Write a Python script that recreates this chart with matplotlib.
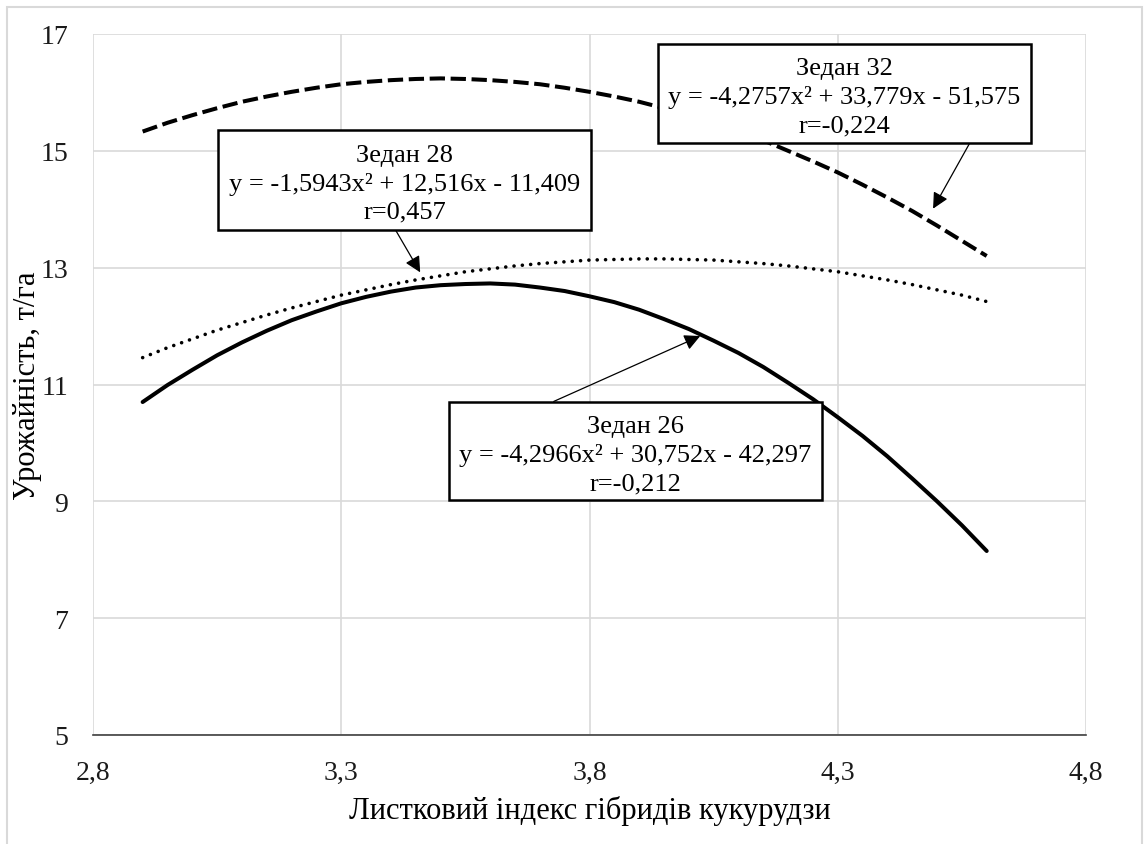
#!/usr/bin/python3
# Yield vs leaf index of maize hybrids: three quadratic trends (Зедан 26/28/32)

import matplotlib.pyplot as plt
from matplotlib.patches import Rectangle

plt.rcParams['font.family'] = ['Liberation Serif', 'DejaVu Serif']

LeafIndex = [2.9, 2.95, 3.0, 3.05, 3.1, 3.15, 3.2, 3.25, 3.3, 3.35, 3.4, 3.45,
             3.5, 3.55, 3.6, 3.65, 3.7, 3.75, 3.8, 3.85, 3.9, 3.95, 4.0, 4.05,
             4.1, 4.15, 4.2, 4.25, 4.3, 4.35, 4.4, 4.45, 4.5, 4.55, 4.6]

# yield, t/ha
Zedan26 = [10.70, 10.99, 11.25, 11.50, 11.72, 11.92, 12.10, 12.25, 12.39, 12.50, 12.59, 12.66,
           12.70, 12.72, 12.73, 12.71, 12.66, 12.60, 12.51, 12.41, 12.28, 12.12, 11.95, 11.75,
           11.54, 11.30, 11.03, 10.75, 10.44, 10.12, 9.77, 9.39, 9.00, 8.59, 8.15]
Zedan28 = [11.46, 11.63, 11.78, 11.93, 12.06, 12.19, 12.31, 12.42, 12.53, 12.62, 12.71, 12.79,
           12.86, 12.93, 12.98, 13.03, 13.07, 13.10, 13.13, 13.14, 13.15, 13.15, 13.14, 13.13,
           13.10, 13.07, 13.03, 12.98, 12.93, 12.86, 12.79, 12.71, 12.62, 12.53, 12.42]
Zedan32 = [15.33, 15.48, 15.61, 15.73, 15.84, 15.93, 16.01, 16.08, 16.14, 16.18, 16.21, 16.23,
           16.24, 16.23, 16.21, 16.18, 16.14, 16.08, 16.01, 15.93, 15.84, 15.73, 15.61, 15.48,
           15.33, 15.18, 15.00, 14.82, 14.63, 14.42, 14.20, 13.97, 13.72, 13.46, 13.20]

XTicks = [2.8, 3.3, 3.8, 4.3, 4.8]
XTickLabels = ['2,8', '3,3', '3,8', '4,3', '4,8']
YTicks = [5, 7, 9, 11, 13, 15, 17]
YTickLabels = ['5', '7', '9', '11', '13', '15', '17']

Label26 = 'Зедан 26\ny = -4,2966x² + 30,752x - 42,297\nr=-0,212'
Label28 = 'Зедан 28\ny = -1,5943x² + 12,516x - 11,409\nr=0,457'
Label32 = 'Зедан 32\ny = -4,2757x² + 33,779x - 51,575\nr=-0,224'

fig = plt.figure(figsize=(11.44, 8.45), dpi=100)
ax = fig.add_axes([93/1144, 1-736/845, (1086-93)/1144, (736-35)/845])

# curves
ax.plot(LeafIndex, Zedan32, color='black', lw=2.9, linestyle=(0, (3.8, 1.4)), dash_capstyle='butt')
ax.plot(LeafIndex, Zedan28, color='black', lw=2.6, linestyle=(0, (0.01, 2.3)), dash_capstyle='round')
ax.plot(LeafIndex, Zedan26, color='black', lw=2.9, solid_capstyle='round', solid_joinstyle='round')

ax.set_xlim(2.8, 4.8)
ax.set_ylim(5, 17)
ax.set_xticks(XTicks)
ax.set_xticklabels(XTickLabels)
ax.set_yticks(YTicks)
ax.set_yticklabels(YTickLabels)
ax.tick_params(length=0, labelsize=20, colors='#1a1a1a')
ax.tick_params(axis='x', pad=18)
ax.tick_params(axis='y', pad=18)
ax.grid(True, color='#d9d9d9', lw=1.2)
ax.set_axisbelow(True)
for side in ['top', 'right', 'left']:
    ax.spines[side].set_visible(False)
ax.spines['bottom'].set_color('#404040')
ax.spines['bottom'].set_linewidth(1.2)

ax.set_xlabel('Листковий індекс гібридів кукурудзи', fontsize=22)
ax.xaxis.set_label_coords(0.5, -0.085)
ax.set_ylabel('Урожайність, т/га', fontsize=22)
ax.yaxis.set_label_coords(-0.051, 0.5)

# equation boxes (x0, y0, x1, y1 in data units)
def EquationBox(x0, y0, x1, y1, txt):
    ax.add_patch(Rectangle((x0, y0), x1-x0, y1-y0, facecolor='white',
                           edgecolor='black', lw=1.8, zorder=4))
    ax.text((x0+x1)/2, (y0+y1)/2 - 0.06, txt, ha='center', va='center', multialignment='center',
            fontsize=19, linespacing=1.35, zorder=5)

EquationBox(3.052, 13.65, 3.803, 15.36, Label28)
EquationBox(3.938, 15.14, 4.689, 16.83, Label32)
EquationBox(3.517, 9.02, 4.268, 10.70, Label26)

# arrows from boxes to curves
arrow = dict(arrowstyle='-|>', color='black', lw=0.9, mutation_scale=24, shrinkA=0, shrinkB=0)
ax.annotate('', xy=(3.459, 12.92), xytext=(3.410, 13.635), arrowprops=arrow, zorder=6)
ax.annotate('', xy=(4.492, 14.01), xytext=(4.565, 15.12), arrowprops=arrow, zorder=6)
ax.annotate('', xy=(4.023, 11.83), xytext=(3.728, 10.71), arrowprops=arrow, zorder=6)

# light chart frame
fig.patches.append(Rectangle((7/1144, -0.01), (1142-7)/1144, 1.01-8/845, transform=fig.transFigure,
                             fill=False, edgecolor='#d9d9d9', lw=1.5))

fig.savefig('out.png', dpi=100)
